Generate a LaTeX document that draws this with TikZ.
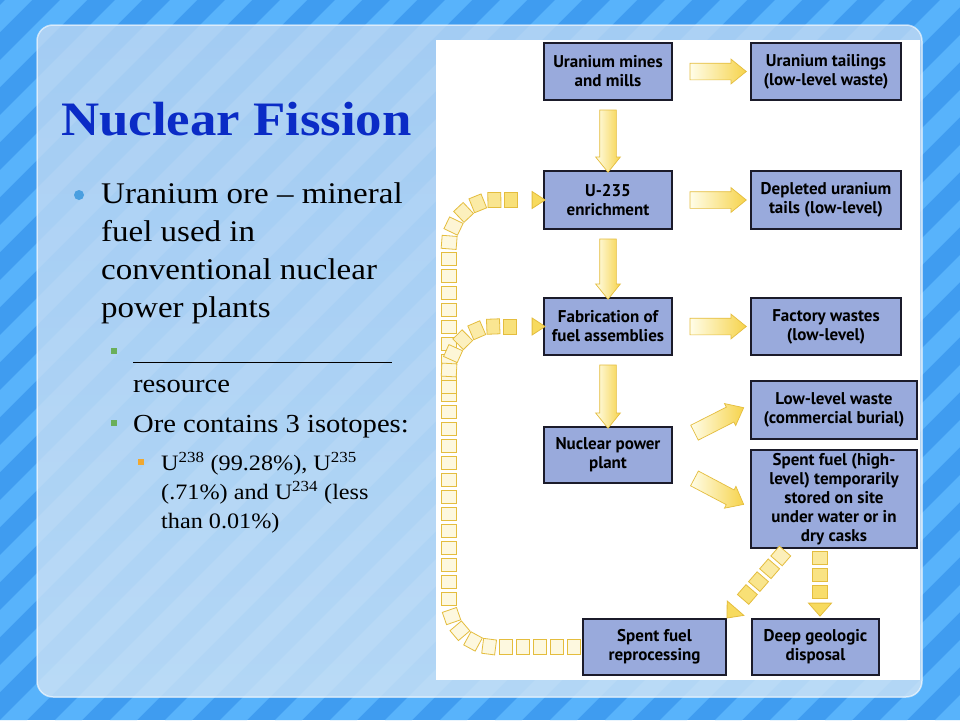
\documentclass[tikz,border=0pt]{standalone}
\usepackage{fontspec}
\setmainfont{Liberation Serif}[FakeStretch=1.1]
\newfontfamily\boxfont{PT Sans}
\usetikzlibrary{shapes.arrows,calc,decorations.markings}

\definecolor{bgdark}{HTML}{3F9CF0}
\definecolor{bglight}{HTML}{58B3FB}
\definecolor{paneltop}{HTML}{A3CCF3}
\definecolor{panelmid}{HTML}{EEF6FD}
\definecolor{panelbot}{HTML}{B2D6F5}
\definecolor{titleblue}{HTML}{0A2BC6}
\definecolor{boxfill}{HTML}{99AADC}
\definecolor{boxline}{HTML}{1B1B2A}
\definecolor{flowpale}{HTML}{FFFDE8}
\definecolor{flowgold}{HTML}{F6D34B}
\definecolor{flowedge}{HTML}{E4BD3E}
\definecolor{chainyel}{HTML}{F7DA5E}
\definecolor{dotblue}{HTML}{4A9FE0}
\definecolor{dotgreen}{HTML}{6AAF5A}
\definecolor{dotorange}{HTML}{F0A830}

\newcommand{\flowarrow}[2]{%
  \path let \p1=(#1), \p2=(#2), \n1={atan2(\y2-\y1,\x2-\x1)}, \n2={veclen(\x2-\x1,\y2-\y1)} in
    node[flow, rotate=\n1, minimum height=\n2] at ($(\p1)!0.5!(\p2)$) {};}
\newcommand{\chainsq}{%
  \pgfmathtruncatemacro{\chainmix}{max(20,100-(\pgfdecoratedpathlength-\pgfkeysvalueof{/pgf/decoration/mark info/distance from start})/1.2)}%
  \filldraw[sharp corners, draw=flowedge, line width=0.8pt, fill=chainyel!\chainmix!white] (-6.5,-7.5) rectangle (6.5,7.5);}
\newcommand{\chainhead}[1]{%
  \filldraw[sharp corners, draw=flowedge, line width=0.8pt, fill=chainyel] (1,-#1) -- (14,0) -- (1,#1) -- cycle;}

\begin{document}
\begin{tikzpicture}[x=1pt, y=-1pt,
    every node/.style={inner sep=0pt},
    box/.style={draw=boxline, line width=1.8pt, fill=boxfill, align=center,
      font=\boxfont\bfseries\fontsize{17}{19}\selectfont},
    flow/.style={single arrow, single arrow head extend=4pt, single arrow tip angle=78,
      inner xsep=0pt, inner ysep=8pt, draw=flowedge, line width=0.7pt,
      left color=flowpale, right color=flowgold},
    chain/.style={decorate, decoration={markings,
      mark=between positions 8pt and -7pt step 17pt with {\chainsq},
      mark=at position 1 with {\chainhead{#1}}}}]
  \useasboundingbox (0,0) rectangle (960,720);
  \begin{scope}
    \clip (0,0) rectangle (960,720);
    \fill[bgdark] (0,0) rectangle (960,720);
    \foreach \i in {-14,...,18}
      \fill[bglight] (\i*55,720) -- (\i*55+27,720) -- (\i*55+747,0) -- (\i*55+720,0) -- cycle;
  \end{scope}
  \begin{scope}
    \clip[rounded corners=16pt] (37,25) rectangle (922,697);
    \shade[top color=paneltop, middle color=panelmid, bottom color=panelbot] (37,25) rectangle (922,697);
    \foreach \i in {-14,...,18}
      \fill[white, opacity=0.1] (\i*55,720) -- (\i*55+27,720) -- (\i*55+747,0) -- (\i*55+720,0) -- cycle;
  \end{scope}
  \draw[white, opacity=0.6, line width=1.5pt, rounded corners=16pt] (37,25) rectangle (922,697);
  \fill[white] (436,40) rectangle (920,680);

  \node[anchor=base west, text=titleblue, font=\bfseries\fontsize{48}{56}\selectfont] (title) at (61,135) {Nuclear Fission};
  \fill[dotblue] (79,195) circle (5);
  \node[anchor=base west, align=left, font=\fontsize{30}{38}\selectfont] (ore) at (101,317)
    {Uranium ore – mineral\\fuel used in\\conventional nuclear\\power plants};
  \fill[dotgreen] (111,348) rectangle (117,354);
  \node[anchor=base west, align=left, font=\fontsize{26}{31}\selectfont] (resource) at (133,392)
    {\rule[-2pt]{259pt}{1.5pt}\\resource};
  \fill[dotgreen] (111,420) rectangle (117,426);
  \node[anchor=base west, font=\fontsize{26}{31}\selectfont] (isotopes) at (133,432) {Ore contains 3 isotopes:};
  \fill[dotorange] (138,459) rectangle (144,465);
  \node[anchor=base west, align=left, font=\fontsize{22}{29}\selectfont] (ratio) at (161,528)
    {U\textsuperscript{238} (99.28\%), U\textsuperscript{235}\\(.71\%) and U\textsuperscript{234} (less\\than 0.01\%)};

  \node[box, minimum width=128pt, minimum height=57pt] (mines) at (608,71.5) {Uranium mines\\and mills};
  \node[box, minimum width=150pt, minimum height=57pt] (tailing) at (826,71.5) {Uranium tailings\\(low-level waste)};
  \node[box, minimum width=128pt, minimum height=58pt] (enrich) at (608,200) {U-235\\enrichment};
  \node[box, minimum width=150pt, minimum height=58pt] (depleted) at (826,200) {Depleted uranium\\tails (low-level)};
  \node[box, minimum width=128pt, minimum height=57pt] (fab) at (608,326.5) {Fabrication of\\fuel assemblies};
  \node[box, minimum width=150pt, minimum height=57pt] (factory) at (826,326.5) {Factory wastes\\(low-level)};
  \node[box, minimum width=128pt, minimum height=56pt] (plant) at (608,455) {Nuclear power\\plant};
  \node[box, minimum width=166pt, minimum height=58pt] (lowlvl) at (834,410) {Low-level waste\\(commercial burial)};
  \node[box, minimum width=166pt, minimum height=98pt] (spent) at (834,499)
    {Spent fuel (high-\\level) temporarily\\stored on site\\under water or in\\dry casks};
  \node[box, minimum width=143pt, minimum height=56pt] (reproc) at (654.5,647) {Spent fuel\\reprocessing};
  \node[box, minimum width=127pt, minimum height=56pt] (deep) at (815.5,647) {Deep geologic\\disposal};

  \flowarrow{$(mines.east)+(12,0)$}{$(tailing.west)+(-9,0)$}
  \flowarrow{$(enrich.east)+(12,0)$}{$(depleted.west)+(-9,0)$}
  \flowarrow{$(fab.east)+(12,0)$}{$(factory.west)+(-9,0)$}
  \flowarrow{$(mines.south)+(0,4)$}{$(enrich.north)+(0,-3)$}
  \flowarrow{$(enrich.south)+(0,4)$}{$(fab.north)+(0,-3)$}
  \flowarrow{$(fab.south)+(0,4)$}{$(plant.north)+(0,-3)$}
  \flowarrow{$(plant.east)+(17,-20)$}{$(lowlvl.west)+(-11,0)$}
  \flowarrow{$(plant.east)+(17,21)$}{$(spent.west)+(-11,3)$}

  \coordinate (railbot) at (449,647);
  \coordinate (railtop) at (449,200);
  \coordinate (railfork) at (449,395);
  \coordinate (dtop) at ($(spent.south)+(-48,1)$);
  \coordinate (vtop) at ($(spent.south)+(-14,1)$);
  \path[chain=8.5, rounded corners=46pt] (reproc.west) -- (railbot) -- (railtop) -- ($(enrich.west)+(-12,0)$);
  \path[chain=8.5, rounded corners=46pt] (railfork) -- (railfork |- fab.west) -- ($(fab.west)+(-12,0)$);
  \path[chain=11] (dtop) -- ($(reproc.north east)!14pt!(dtop)$);
  \path[chain=11.5] (vtop) -- ($(vtop |- deep.north)+(0,-16)$);
\end{tikzpicture}
\end{document}
